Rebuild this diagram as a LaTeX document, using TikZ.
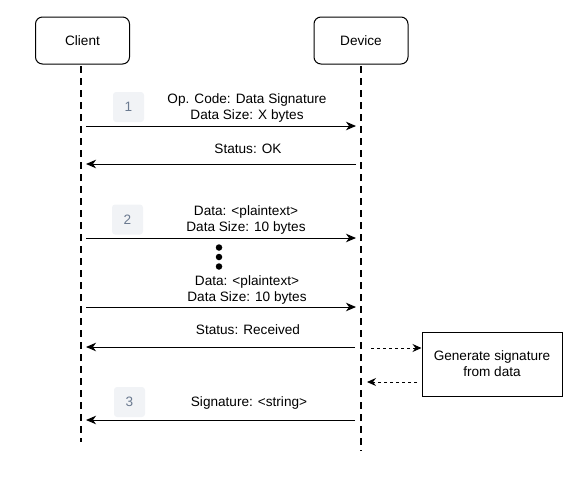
\documentclass[tikz,border=0pt]{standalone}
\usepackage{fontspec}
\setmainfont{Liberation Sans}
\usetikzlibrary{arrows.meta}
\definecolor{badgefill}{HTML}{F1F3F6}
\definecolor{badgetext}{HTML}{6B7A90}
\begin{document}
\begin{tikzpicture}[x=1pt,y=-1pt,
  actor/.style={draw, rounded corners=7pt, line width=1pt, minimum width=94pt, minimum height=47pt, font=\fontsize{13.6}{16}\selectfont},
  lifeline/.style={line width=2pt, dash pattern=on 7pt off 5pt},
  msg/.style={line width=1pt, -{Stealth[length=10pt,width=8.5pt,inset=3pt]}},
  dmsg/.style={line width=1pt, dash pattern=on 3pt off 3pt, -{Stealth[length=9pt,width=8pt,inset=3pt]}},
  lbl/.style={font=\fontsize{13.6}{16}\selectfont, align=center},
  badge/.style={fill=badgefill, rounded corners=3pt, minimum width=31pt, minimum height=30pt, text=badgetext, font=\fontsize{13.6}{16}\selectfont},
  procbox/.style={draw, line width=1pt, minimum width=140pt, minimum height=64pt, align=center, font=\fontsize{13.6}{16}\selectfont},
  dot/.style={circle, fill, inner sep=0pt, minimum size=6.5pt}
]
\useasboundingbox (0,0) rectangle (581,485);

\node[actor] (client) at (82.5,40.5) {Client};
\node[actor] (device) at (361,40.5) {Device};

\coordinate (cTop) at (81,66);
\coordinate (cBot) at (81,442);
\coordinate (dTop) at (361,66);
\coordinate (dBot) at (361,451);
\draw[lifeline] (cTop) -- (cBot);
\draw[lifeline] (dTop) -- (dBot);

% message 1
\node[badge] (b1) at (128.5,107) {1};
\coordinate (c1) at (86,126); \coordinate (d1) at (356,126);
\draw[msg] (c1) -- (d1);
\node[lbl] (l1) at (247,108) {Op. Code: Data Signature\\Data Size: X bytes};

% status OK
\coordinate (c2) at (86,164); \coordinate (d2) at (356,164);
\draw[msg] (d2) -- (c2);
\node[lbl] (l2) at (248,148.5) {Status: OK};

% message 2
\node[badge] (b2) at (127.5,219.5) {2};
\coordinate (c3) at (86,238); \coordinate (d3) at (356,238);
\draw[msg] (c3) -- (d3);
\node[lbl] (l3) at (246,220) {Data: <plaintext>\\Data Size: 10 bytes};

\node[dot] (dt1) at (219,247.5) {};
\node[dot] (dt2) at (219,257) {};
\node[dot] (dt3) at (219,266.5) {};

\coordinate (c4) at (86,307); \coordinate (d4) at (356,307);
\draw[msg] (c4) -- (d4);
\node[lbl] (l4) at (247,289.5) {Data: <plaintext>\\Data Size: 10 bytes};

% status received
\coordinate (c5) at (86,347); \coordinate (d5) at (355,347);
\draw[msg] (d5) -- (c5);
\node[lbl] (l5) at (248,330) {Status: Received};

% processing
\node[procbox] (gen) at (492,364) {Generate signature\\from data};
\coordinate (g1) at (371,348);
\draw[dmsg] (g1) -- (gen.west |- g1);
\coordinate (g2) at (367,382);
\coordinate (g3) at (417,382);
\draw[dmsg] (g3) -- (g2);

% signature
\node[badge] (b3) at (129.5,402) {3};
\coordinate (c6) at (86,420); \coordinate (d6) at (355,420);
\draw[msg] (d6) -- (c6);
\node[lbl] (l6) at (249,403) {Signature: <string>};
\end{tikzpicture}
\end{document}
